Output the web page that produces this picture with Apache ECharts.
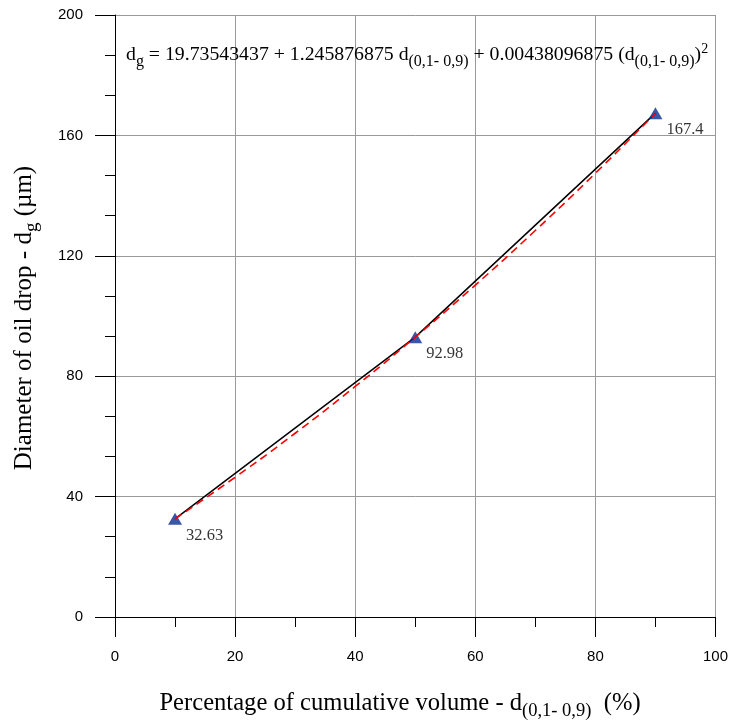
<!DOCTYPE html>
<html>
<head>
<meta charset="utf-8">
<script src="https://cdn.jsdelivr.net/npm/echarts@6/dist/echarts.min.js"></script>
<style>
html,body{margin:0;padding:0;background:#fff;}
#main{width:731px;height:722px;}
</style>
</head>
<body>
<div id="main"></div>
<script>
// Measured points
const xValues = [10, 50, 90];
const yValues = [32.63, 92.98, 167.4];
// Fitted curve (red dashed)
const fitX = [10, 20, 30, 40, 50, 60, 70, 80, 90];
const fitY = [32.63, 46.41, 61.05, 76.58, 92.98, 110.26, 128.41, 147.44, 167.35];
// Axis ticks
const xTicks = [0, 20, 40, 60, 80, 100];
const yTicks = [0, 40, 80, 120, 160, 200];

const pts = xValues.map((x, i) => [x, yValues[i]]);
const fit = fitX.map((x, i) => [x, fitY[i]]);

const serif = '"Liberation Serif", "Times New Roman", serif';
const sans = '"Liberation Sans", Arial, sans-serif';

const chart = echarts.init(document.getElementById('main'));
chart.setOption({
  animation: false,
  backgroundColor: '#fff',
  grid: { left: 115, right: 15, top: 15, bottom: 105, containLabel: false },
  xAxis: {
    type: 'value', min: xTicks[0], max: xTicks[xTicks.length - 1], interval: 20,
    axisLine: { show: true, lineStyle: { color: '#000', width: 1 } },
    axisTick: { show: true, length: 20, lineStyle: { color: '#000' } },
    minorTick: { show: true, splitNumber: 2, length: 10, lineStyle: { color: '#000' } },
    splitLine: { show: true, lineStyle: { color: '#999', width: 1 } },
    axisLabel: { margin: 32, fontFamily: sans, fontSize: 15, color: '#000' }
  },
  yAxis: {
    type: 'value', min: yTicks[0], max: yTicks[yTicks.length - 1], interval: 40,
    axisLine: { show: true, lineStyle: { color: '#000', width: 1 } },
    axisTick: { show: true, length: 20, lineStyle: { color: '#000' } },
    minorTick: { show: true, splitNumber: 3, length: 10, lineStyle: { color: '#000' } },
    splitLine: { show: true, lineStyle: { color: '#999', width: 1 } },
    axisLabel: { margin: 32, fontFamily: sans, fontSize: 15, color: '#000' }
  },
  series: [
    {
      type: 'line', data: pts, symbol: 'none', z: 2,
      lineStyle: { color: '#000', width: 1.5 }
    },
    {
      type: 'scatter', data: pts, symbol: 'triangle', symbolSize: [14, 12], z: 3,
      itemStyle: { color: '#082c94' },
      label: {
        show: true, position: 'inside', align: 'left', verticalAlign: 'middle',
        offset: [11, 17], fontFamily: serif, fontSize: 16.5, color: '#000',
        formatter: p => String(p.value[1])
      }
    },
    {
      type: 'line', data: fit, symbol: 'none', smooth: true, z: 4,
      lineStyle: { color: '#ff0000', width: 1.6, type: [8, 5] }
    }
  ],
  graphic: [
    {
      type: 'text', x: 126, y: 55, z: 10,
      style: {
        text: '{m|d}{s|g}{m| = 19.73543437 + 1.245876875 d}{s|(0,1- 0,9)}{m| + 0.00438096875 (d}{s|(0,1- 0,9)}{m|)}{p|2}',
        align: 'left', verticalAlign: 'middle',
        rich: {
          m: { fontFamily: serif, fontSize: 19.8, fill: '#000', color: '#000' },
          s: { fontFamily: serif, fontSize: 16, fill: '#000', color: '#000', padding: [14, 0, 0, 0] },
          p: { fontFamily: serif, fontSize: 14, fill: '#000', color: '#000', padding: [0, 0, 12, 0] }
        }
      }
    },
    {
      type: 'text', x: 400, y: 704, z: 10,
      style: {
        text: '{m|Percentage of cumulative volume - d}{s|(0,1- 0,9)}{m|  (%)}',
        align: 'center', verticalAlign: 'middle',
        rich: {
          m: { fontFamily: serif, fontSize: 24.6, fill: '#000', color: '#000' },
          s: { fontFamily: serif, fontSize: 18.5, fill: '#000', color: '#000', padding: [14, 0, 0, 0] }
        }
      }
    },
    {
      type: 'text', x: 24, y: 318, rotation: Math.PI / 2, z: 10,
      style: {
        text: '{m|Diameter of oil drop - d}{s|g}{m| (\u00b5m)}',
        align: 'center', verticalAlign: 'middle',
        rich: {
          m: { fontFamily: serif, fontSize: 25, fill: '#000', color: '#000' },
          s: { fontFamily: serif, fontSize: 19, fill: '#000', color: '#000', padding: [16, 0, 0, 0] }
        }
      }
    }
  ]
});
</script>
</body>
</html>
